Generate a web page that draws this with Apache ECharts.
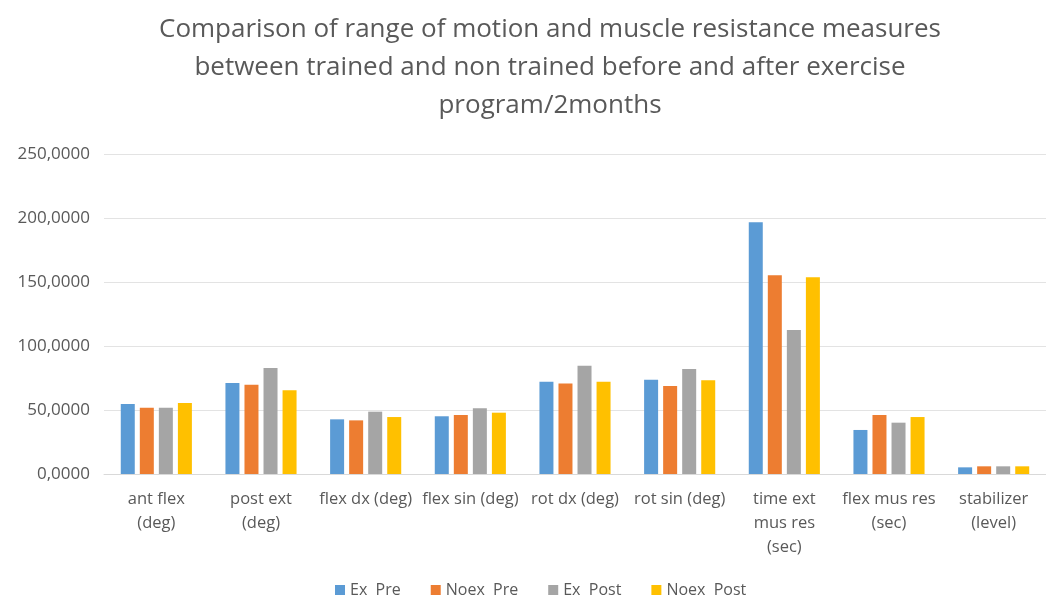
<!DOCTYPE html>
<html lang="en">
<head>
  <meta charset="UTF-8">
  <title>Range of motion and muscle resistance</title>
  <script src="https://cdn.jsdelivr.net/npm/echarts@6/dist/echarts.min.js"></script>
  <style>
    html, body { margin: 0; padding: 0; background: #fff; }
    #chart { width: 1046px; height: 603px; }
  </style>
</head>
<body>
<div id="chart"></div>
<script>
  // categories and series
  const categories = ["ant flex\n(deg)", "post ext\n(deg)", "flex dx (deg)", "flex sin (deg)", "rot dx (deg)",
    "rot sin (deg)", "time ext\nmus res\n(sec)", "flex mus res\n(sec)", "stabilizer\n(level)"];
  const exPre    = [54.7, 71.1, 42.7, 45.1, 72.1, 73.7, 196.6, 34.4, 5.2];
  const noexPre  = [51.8, 69.8, 41.9, 46.1, 70.8, 68.8, 155.2, 46.1, 6.0];
  const exPost   = [51.8, 82.8, 48.7, 51.3, 84.6, 82.0, 112.5, 40.1, 6.0];
  const noexPost = [55.5, 65.4, 44.5, 47.9, 72.1, 73.2, 153.7, 44.5, 6.0];
  const seriesNames = ["Ex  Pre", "Noex  Pre", "Ex  Post", "Noex  Post"];
  const colors = ["#5B9BD5", "#ED7D31", "#A5A5A5", "#FFC000"];

  let myChart = echarts.init(document.getElementById('chart'));
  const font = "'Open Sans', sans-serif";

  let seriesData = [exPre, noexPre, exPost, noexPost];
  let series = [];
  for (let i = 0; i < seriesData.length; i++) {
    series.push({
      name: seriesNames[i],
      type: "bar",
      barWidth: 14,
      barGap: "36%",
      itemStyle: { color: colors[i] },
      data: seriesData[i]
    });
  }

  let option = {
    animation: false,
    textStyle: { fontFamily: font },
    title: {
      text: "Comparison of range of motion and muscle resistance measures\nbetween trained and non trained before and after exercise\nprogram/2months",
      left: 545,
      textAlign: "center",
      top: 6,
      textStyle: {
        fontFamily: font,
        fontSize: 26,
        fontWeight: "normal",
        color: "#595959",
        lineHeight: 38
      }
    },
    legend: {
      bottom: 0,
      left: 330,
      itemWidth: 10,
      itemHeight: 10,
      itemGap: 30,
      icon: "rect",
      textStyle: { fontFamily: font, fontSize: 16, color: "#595959" },
      data: seriesNames
    },
    grid: {
      left: 104,
      top: 154,
      width: 952,
      height: 320
    },
    xAxis: {
      type: "category",
      data: categories,
      axisLine: { lineStyle: { color: "#d9d9d9" } },
      axisTick: { show: false },
      axisLabel: {
        interval: 0,
        fontFamily: font,
        fontSize: 16.5,
        color: "#595959",
        lineHeight: 24,
        margin: 13
      }
    },
    yAxis: {
      type: "value",
      min: 0,
      max: 250,
      interval: 50,
      axisLine: { show: false },
      axisTick: { show: false },
      splitLine: { lineStyle: { color: "#e3e3e3" } },
      axisLabel: {
        fontFamily: font,
        fontSize: 17,
        color: "#595959",
        margin: 14,
        formatter: function (v) {
          return v.toFixed(4).replace(".", ",");
        }
      }
    },
    series: series
  };
  myChart.setOption(option, true);
  window.addEventListener("resize", function () {
    myChart.resize();
  });
</script>
</body>
</html>
